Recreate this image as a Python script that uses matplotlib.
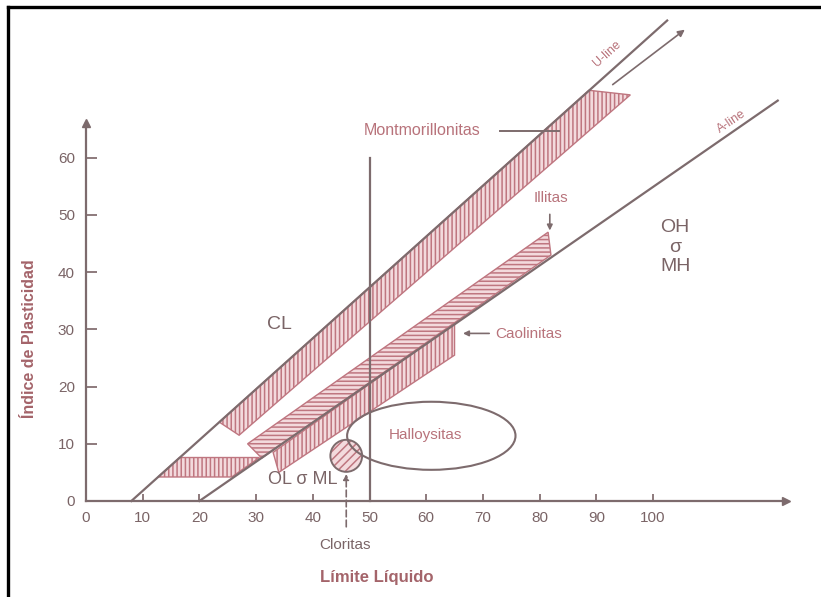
import matplotlib
matplotlib.use("Agg")
import matplotlib.pyplot as plt
from matplotlib.patches import Polygon, Ellipse
from matplotlib.lines import Line2D

plt.rcParams['font.family'] = ['Liberation Sans', 'DejaVu Sans']
plt.rcParams['hatch.linewidth'] = 1.1

# ---- data (Limite Liquido, Indice de Plasticidad) ----
x_ticks = [0, 10, 20, 30, 40, 50, 60, 70, 80, 90, 100]
y_ticks = [0, 10, 20, 30, 40, 50, 60]

u_line_ll = [8, 102.5]
u_line_pi = [0, 84]
a_line_ll = [20, 122]
a_line_pi = [0, 70]
mont_arrow_ll = [92.5, 106]
mont_arrow_pi = [72.5, 82.7]
ll50_line_ll = [50, 50]
ll50_line_pi = [0, 60]

mont_ll = [23.5, 88.7, 96, 27]
mont_pi = [13.8, 71.8, 71, 11.5]
illite_ll = [28.5, 81.5, 82, 31]
illite_pi = [10, 47, 43, 7.5]
kaol_ll = [33, 65, 65, 34]
kaol_pi = [8.5, 31, 25.5, 5]
clml_ll = [12.7, 25.7, 30.6, 16.5]
clml_pi = [4.2, 4.2, 7.6, 7.6]

clorita_center = (45.9, 7.9)
clorita_size = (5.6, 5.6)
halloy_center = (60.9, 11.4)
halloy_size = (29.7, 11.9)

# ---- colours ----
line_c = '#7d6b6d'
tick_c = '#7a6466'
red_c = '#b8737b'
dark_red = '#a4646a'
hatch_c = '#bf7680'
face_c = '#f3dadd'

fig = plt.figure(figsize=(8.21, 5.97), dpi=100)
ax = fig.add_axes([86/821, 96/597, 5.67*123.5/821, 5.72*66/597])
ax.set_xlim(0, 123.5)
ax.set_ylim(0, 66)
for s in ['top', 'right']:
    ax.spines[s].set_visible(False)
for s in ['left', 'bottom']:
    ax.spines[s].set_color(line_c)
    ax.spines[s].set_linewidth(1.6)
ax.plot(1, 0, '>', color=line_c, ms=6, transform=ax.transAxes, clip_on=False)
ax.plot(0, 1, '^', color=line_c, ms=6, transform=ax.transAxes, clip_on=False)

ax.set_xticks(x_ticks)
ax.set_xticklabels([str(v) for v in x_ticks])
ax.set_yticks(y_ticks)
ax.set_yticklabels([str(v) for v in y_ticks])
ax.tick_params(axis='x', direction='in', length=5, width=1.2, colors=tick_c,
               labelsize=11, pad=7)
ax.tick_params(axis='y', direction='in', length=8, width=1.2, colors=tick_c,
               labelsize=11, pad=8)
ax.set_facecolor('white')

# bands
def band(xs, ys, hatch, z=2):
    p = Polygon(list(zip(xs, ys)), closed=True, facecolor=face_c,
                edgecolor=hatch_c, hatch=hatch, lw=1.0, zorder=z, clip_on=False)
    ax.add_patch(p)

band(mont_ll, mont_pi, '||||')
band(kaol_ll, kaol_pi, '||||')
band(illite_ll, illite_pi, '----', z=3)
band(clml_ll, clml_pi, '||||')

# lines
ax.plot(u_line_ll, u_line_pi, color=line_c, lw=1.6, clip_on=False, zorder=4)
ax.plot(a_line_ll, a_line_pi, color=line_c, lw=1.6, clip_on=False, zorder=4)
ax.plot(ll50_line_ll, ll50_line_pi, color=line_c, lw=1.6, clip_on=False, zorder=4)
ax.annotate('', xy=(mont_arrow_ll[1], mont_arrow_pi[1]),
            xytext=(mont_arrow_ll[0], mont_arrow_pi[0]),
            arrowprops=dict(arrowstyle='-|>', color=line_c, lw=1.2,
                            mutation_scale=10), annotation_clip=False)

# cloritas circle and halloysitas ellipse
ax.add_patch(Ellipse(clorita_center, clorita_size[0], clorita_size[1],
                     facecolor=face_c, edgecolor=hatch_c, hatch='////',
                     lw=0, zorder=5, clip_on=False))
ax.add_patch(Ellipse(clorita_center, clorita_size[0], clorita_size[1],
                     facecolor='none', edgecolor=line_c,
                     lw=1.4, zorder=5, clip_on=False))
ax.add_patch(Ellipse(halloy_center, halloy_size[0], halloy_size[1],
                     facecolor='none', edgecolor=line_c, lw=1.5, zorder=5,
                     clip_on=False))
ax.annotate('', xy=(45.9, 5.2), xytext=(45.9, -5.0),
            arrowprops=dict(arrowstyle='-|>', color=line_c, lw=1.2,
                            linestyle=(0, (4, 2)), mutation_scale=8),
            annotation_clip=False)

# texts
ax.text(59.8, 11.5, 'Halloysitas', color=red_c, fontsize=11, ha='center',
        va='center', zorder=6)
ax.text(34.2, 30.8, 'CL', color=tick_c, fontsize=14, ha='center', va='center')
ax.text(38.3, 3.7, 'OL σ ML', color=tick_c, fontsize=13, ha='center',
        va='center', zorder=6)
ax.text(103.9, 44.4, 'OH\nσ\nMH', color=tick_c, fontsize=14, ha='center',
        va='center', linespacing=1.2)
ax.text(59.3, 64.7, 'Montmorillonitas', color=red_c, fontsize=11.5,
        ha='center', va='center')
ax.plot([73, 83.5], [64.7, 64.7], color=line_c, lw=1.4, clip_on=False, zorder=6)
ax.text(82, 53, 'Illitas', color=red_c, fontsize=11, ha='center', va='center')
ax.annotate('', xy=(81.8, 46.8), xytext=(81.8, 50.6),
            arrowprops=dict(arrowstyle='-|>', color=line_c, lw=1.2,
                            mutation_scale=8), annotation_clip=False)
ax.text(72.2, 29.2, 'Caolinitas', color=red_c, fontsize=11, ha='left',
        va='center')
ax.annotate('', xy=(66.0, 29.3), xytext=(71.6, 29.3),
            arrowprops=dict(arrowstyle='-|>', color=line_c, lw=1.2,
                            mutation_scale=8), annotation_clip=False)
ax.text(91.9, 78.1, 'U-line', color=red_c, fontsize=9, ha='center',
        va='center', rotation=42)
ax.text(113.8, 66.4, 'A-line', color=red_c, fontsize=9, ha='center',
        va='center', rotation=34)
ax.text(45.7, -7.7, 'Cloritas', color=tick_c, fontsize=11, ha='center',
        va='center')
ax.text(51.3, -13.4, 'Límite Líquido', color=dark_red, fontsize=12,
        fontweight='bold', ha='center', va='center')
ax.text(-10.0, 28.3, 'Índice de Plasticidad', color=dark_red, fontsize=11.5,
        fontweight='bold', ha='center', va='center', rotation=90)

# scan frame (top and left edges)
fig.add_artist(Line2D([7.5/821, 1.0], [1 - 6.5/597, 1 - 6.5/597],
                      color='black', lw=2.4, transform=fig.transFigure))
fig.add_artist(Line2D([7.5/821, 7.5/821], [0, 1 - 6.5/597],
                      color='black', lw=2.4, transform=fig.transFigure))

fig.savefig('out.png', dpi=100, facecolor='white')
